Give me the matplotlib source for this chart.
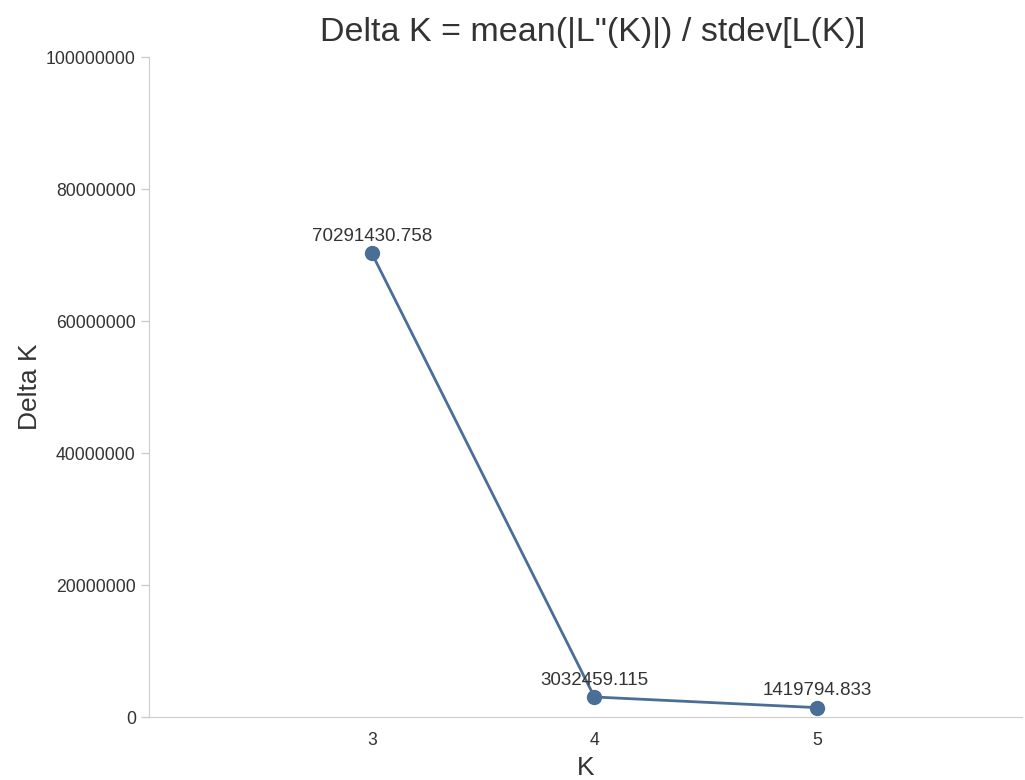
import matplotlib.pyplot as plt

# data
k_values = [3, 4, 5]
delta_k = [70291430.758, 3032459.115, 1419794.833]
y_ticks = [0, 20000000, 40000000, 60000000, 80000000, 100000000]

plt.rcParams['font.family'] = ['Liberation Sans', 'DejaVu Sans']

fig = plt.figure(figsize=(10.25, 7.8), dpi=100)
ax = fig.add_axes([149 / 1025, 63 / 780, 873 / 1025, 660 / 780])

line_color = '#4a6e96'
ax.plot(k_values, delta_k, color=line_color, linewidth=2, marker='o',
        markersize=10, zorder=3)

# value labels above each point
for k, v in zip(k_values, delta_k):
    ax.annotate(f'{v:.3f}', (k, v), xytext=(0, 6), textcoords='offset points',
                ha='center', va='bottom', fontsize=13.5, color='#333333')

ax.set_xlim(2.0, 5.92)
ax.set_ylim(0, 100000000)
ax.set_xticks(k_values)
ax.set_yticks(y_ticks)
ax.set_yticklabels([str(t) for t in y_ticks])

ax.spines['top'].set_visible(False)
ax.spines['right'].set_visible(False)
ax.spines['left'].set_color('#cccccc')
ax.spines['bottom'].set_color('#cccccc')
ax.tick_params(axis='y', colors='#cccccc', labelcolor='#333333', labelsize=12.7,
               length=6, width=1)
ax.tick_params(axis='x', length=0, labelcolor='#333333', labelsize=12.7, pad=11)

ax.set_xlabel('K', fontsize=19, color='#333333', va='center')
ax.xaxis.set_label_coords(0.5, -51 / 660)
ax.set_ylabel('Delta K', fontsize=19, color='#333333', va='center')
ax.yaxis.set_label_coords(-119 / 873, 0.5)
fig.suptitle('Delta K = mean(|L"(K)|) / stdev[L(K)]', fontsize=24.5,
             color='#333333', x=593 / 1025, y=1 - 32 / 780, va='center')

fig.savefig('out.png', dpi=100)
